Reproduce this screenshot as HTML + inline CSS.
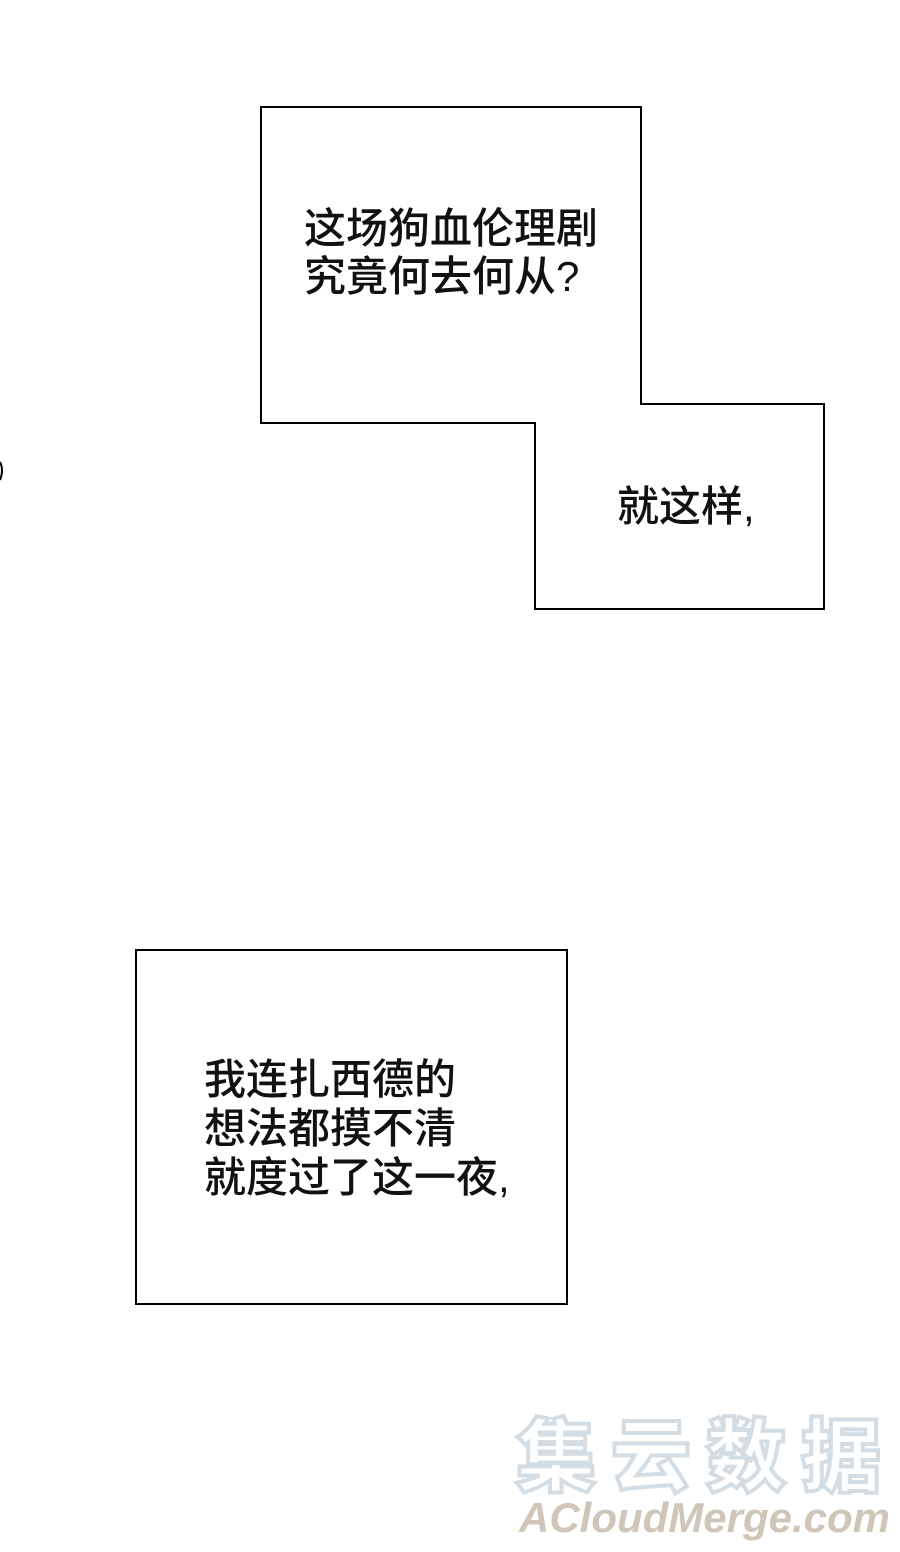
<!DOCTYPE html>
<html><head><meta charset="utf-8"><style>
html,body{margin:0;padding:0;background:#fff;}
body{width:900px;height:1552px;position:relative;overflow:hidden;font-family:"Liberation Sans","Noto Sans CJK SC",sans-serif;}
.t{position:absolute;font-size:42px;line-height:48px;color:#111;white-space:nowrap;font-weight:500;}
.wm1{position:absolute;left:516px;top:1393px;font-size:80px;font-weight:900;color:#fff;-webkit-text-stroke:4px #d3dde3;letter-spacing:15px;font-family:"Noto Sans CJK SC",sans-serif;}
.wm2{position:absolute;left:519px;top:1494px;font-size:42px;font-weight:bold;font-style:italic;color:#cfc5b8;font-family:"Liberation Sans",sans-serif;letter-spacing:0px;}
</style></head><body>
<svg width="900" height="1552" style="position:absolute;left:0;top:0">
<polygon points="261,107 641,107 641,404 824,404 824,609 535,609 535,423 261,423" fill="#fff" stroke="#000" stroke-width="2"/>
<rect x="136" y="950" width="431" height="354" fill="#fff" stroke="#000" stroke-width="2"/>
<path d="M0,462 Q4,470 0,480" stroke="#000" stroke-width="2" fill="none"/>
</svg>
<div class="t" style="left:304px;top:205px">这场狗血伦理剧<br>究竟何去何从?</div>
<div class="t" style="left:617px;top:483px">就这样,</div>
<div class="t" style="left:204px;top:1055px;line-height:49px">我连扎西德的<br>想法都摸不清<br>就度过了这一夜,</div>
<div class="wm1">集云数据</div>
<div class="wm2">ACloudMerge.com</div>
</body></html>
